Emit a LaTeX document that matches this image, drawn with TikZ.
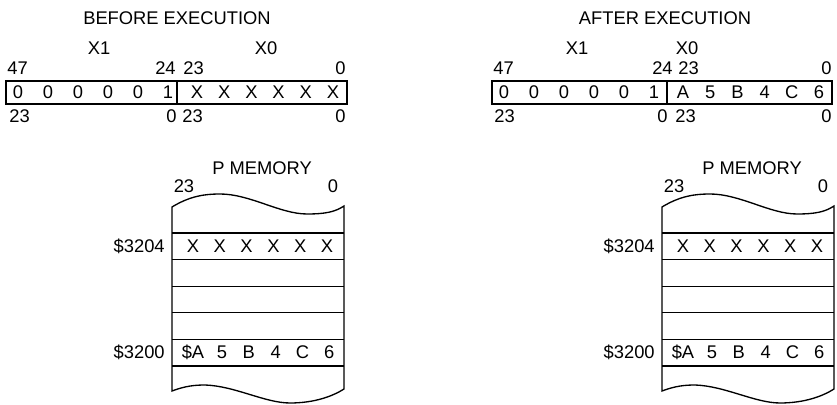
\documentclass[tikz,border=0pt]{standalone}
\usepackage{fontspec}
\setmainfont{Liberation Sans}
\usetikzlibrary{positioning}

\begin{document}
\begin{tikzpicture}[
        x=0.6pt, y=-0.6pt,
        lbl/.style = {inner sep=0pt, anchor=base, font=\fontsize{11}{13}\selectfont},
        lblL/.style = {lbl, anchor=base west},
        lblR/.style = {lbl, anchor=base east},
        cell/.style = {lbl},
        regbox/.style = {draw, line width=0.8pt},
        memwall/.style = {draw, line width=0.8pt}
    ]
        \useasboundingbox (0,0) rectangle (837,405);

        % Titles
        \node (titleB) [lbl] at (177,25) {BEFORE EXECUTION};
        \node (titleA) [lbl] at (665,25) {AFTER EXECUTION};

        % Register before execution
        \node (x1B) [lbl] at (99,55) {X1};
        \node (x0B) [lbl] at (266,55) {X0};
        \node (b47B) [lblL] at (7,75) {47};
        \node (b24B) [lblR] at (176,75) {24};
        \node (b23B) [lblL] at (183,75) {23};
        \node (b0B) [lblR] at (346,75) {0};
        \draw [regbox] (6,81) rectangle (347,104);
        \draw [regbox] (177,81) -- (177,104);
        \foreach \v [count=\i] in {0,0,0,0,0,1}
            \node (hB\i) [cell] at ({18+30*(\i-1)},99) {\v};
        \foreach \v [count=\i] in {X,X,X,X,X,X}
            \node (lB\i) [cell] at ({197+27.2*(\i-1)},99) {\v};
        \node (c23B) [lblL] at (9,123) {23};
        \node (c0B) [lblR] at (177,123) {0};
        \node (d23B) [lblL] at (182,123) {23};
        \node (d0B) [lblR] at (346,123) {0};

        % Register after execution
        \node (x1A) [lbl] at (577,55) {X1};
        \node (x0A) [lbl] at (687,55) {X0};
        \node (b47A) [lblL] at (493,75) {47};
        \node (b24A) [lblR] at (673,75) {24};
        \node (b23A) [lblL] at (678,75) {23};
        \node (b0A) [lblR] at (832,75) {0};
        \draw [regbox] (492,81) rectangle (832,104);
        \draw [regbox] (667,81) -- (667,104);
        \foreach \v [count=\i] in {0,0,0,0,0,1}
            \node (hA\i) [cell] at ({504+30*(\i-1)},99) {\v};
        \foreach \v [count=\i] in {A,5,B,4,C,6}
            \node (lA\i) [cell] at ({683+27.2*(\i-1)},99) {\v};
        \node (c23A) [lblL] at (494,123) {23};
        \node (c0A) [lblR] at (668,123) {0};
        \node (d23A) [lblL] at (675,123) {23};
        \node (d0A) [lblR] at (832,123) {0};

        % P memory (same contents on both sides)
        \foreach \dx/\tag in {0/B,490/A} {
            \begin{scope}[shift={(\dx,0)}]
                \node (pm\tag) [lbl] at (262,175) {P MEMORY};
                \node (pm23\tag) [lbl] at (184,193) {23};
                \node (pm0\tag) [lbl] at (333,193) {0};
                \draw [memwall] (172,207) .. controls (190,196) and (205,194) .. (220,194)
                    .. controls (250,194) and (280,214) .. (307,214)
                    .. controls (325,214) and (335,212) .. (344,206)
                    -- (344,389) .. controls (333,396) and (315,403) .. (290,403)
                    .. controls (265,403) and (235,386) .. (205,385)
                    .. controls (195,385) and (185,386) .. (172,391) -- cycle;
                \foreach \y in {233,259.6,286.2,312.8,339.4,366}
                    \draw [memwall] (172,\y) -- (344,\y);
                \node (a3204\tag) [lblR] at (165,252.5) {\$3204};
                \node (a3200\tag) [lblR] at (165,359) {\$3200};
                \foreach \v [count=\i] in {X,X,X,X,X,X}
                    \node (mx\tag\i) [cell] at ({193+26.8*(\i-1)},252.5) {\v};
                \node (md\tag) [cell] at (193,359) {\$A};
                \foreach \v [count=\i] in {5,B,4,C,6}
                    \node (mv\tag\i) [cell] at ({222+26.8*(\i-1)},359) {\v};
            \end{scope}
        }

    \end{tikzpicture}
\end{document}
